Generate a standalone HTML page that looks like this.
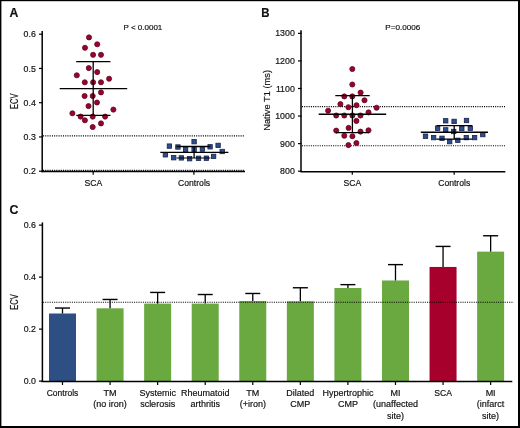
<!DOCTYPE html>
<html><head><meta charset="utf-8"><style>
html,body{margin:0;padding:0;background:#fff;}
body{width:520px;height:428px;overflow:hidden;position:relative;}
svg{position:absolute;left:0;top:0;}
text{font-family:"Liberation Sans", sans-serif;fill:#111;stroke:#111;stroke-width:0.18px;}
</style></head><body>
<svg width="520" height="428" viewBox="0 0 520 428">
<defs><filter id="g" x="0" y="0" width="1" height="1"><feOffset dx="0" dy="0"/></filter></defs>
<rect x="0" y="0" width="520" height="428" fill="#fff"/>
<line x1="39" y1="34.19999999999999" x2="42.5" y2="34.19999999999999" stroke="#000" stroke-width="1.2" />
<line x1="39" y1="68.44999999999999" x2="42.5" y2="68.44999999999999" stroke="#000" stroke-width="1.2" />
<line x1="39" y1="102.69999999999999" x2="42.5" y2="102.69999999999999" stroke="#000" stroke-width="1.2" />
<line x1="39" y1="136.95" x2="42.5" y2="136.95" stroke="#000" stroke-width="1.2" />
<line x1="39" y1="171.2" x2="42.5" y2="171.2" stroke="#000" stroke-width="1.2" />
<line x1="43" y1="135.8" x2="245" y2="135.8" stroke="#000" stroke-width="1.15" stroke-dasharray="1.05 1.17"/>
<line x1="43" y1="170.3" x2="245" y2="170.3" stroke="#000" stroke-width="1.15" stroke-dasharray="1.05 1.17"/>
<line x1="42.2" y1="31" x2="42.2" y2="172.2" stroke="#000" stroke-width="1.5" />
<line x1="41.5" y1="171.5" x2="245" y2="171.5" stroke="#000" stroke-width="1.5" />
<line x1="93.2" y1="171" x2="93.2" y2="174.8" stroke="#000" stroke-width="1.2" />
<line x1="193.9" y1="171" x2="193.9" y2="174.8" stroke="#000" stroke-width="1.2" />
<circle cx="89.0" cy="37.4" r="2.55" fill="#98042f" stroke="#5e0820" stroke-width="0.8"/>
<circle cx="97.2" cy="44.3" r="2.55" fill="#98042f" stroke="#5e0820" stroke-width="0.8"/>
<circle cx="85.0" cy="47.8" r="2.55" fill="#98042f" stroke="#5e0820" stroke-width="0.8"/>
<circle cx="93.1" cy="54.8" r="2.55" fill="#98042f" stroke="#5e0820" stroke-width="0.8"/>
<circle cx="101.0" cy="54.8" r="2.55" fill="#98042f" stroke="#5e0820" stroke-width="0.8"/>
<circle cx="88.8" cy="68.1" r="2.55" fill="#98042f" stroke="#5e0820" stroke-width="0.8"/>
<circle cx="97.2" cy="72.1" r="2.55" fill="#98042f" stroke="#5e0820" stroke-width="0.8"/>
<circle cx="76.8" cy="75.3" r="2.55" fill="#98042f" stroke="#5e0820" stroke-width="0.8"/>
<circle cx="109.1" cy="78.7" r="2.55" fill="#98042f" stroke="#5e0820" stroke-width="0.8"/>
<circle cx="84.8" cy="82.3" r="2.55" fill="#98042f" stroke="#5e0820" stroke-width="0.8"/>
<circle cx="93.1" cy="82.3" r="2.55" fill="#98042f" stroke="#5e0820" stroke-width="0.8"/>
<circle cx="101.0" cy="82.3" r="2.55" fill="#98042f" stroke="#5e0820" stroke-width="0.8"/>
<circle cx="101.0" cy="92.4" r="2.55" fill="#98042f" stroke="#5e0820" stroke-width="0.8"/>
<circle cx="84.6" cy="96.0" r="2.55" fill="#98042f" stroke="#5e0820" stroke-width="0.8"/>
<circle cx="92.7" cy="96.0" r="2.55" fill="#98042f" stroke="#5e0820" stroke-width="0.8"/>
<circle cx="97.0" cy="102.5" r="2.55" fill="#98042f" stroke="#5e0820" stroke-width="0.8"/>
<circle cx="88.5" cy="106.1" r="2.55" fill="#98042f" stroke="#5e0820" stroke-width="0.8"/>
<circle cx="113.4" cy="109.6" r="2.55" fill="#98042f" stroke="#5e0820" stroke-width="0.8"/>
<circle cx="72.4" cy="113.3" r="2.55" fill="#98042f" stroke="#5e0820" stroke-width="0.8"/>
<circle cx="80.6" cy="116.6" r="2.55" fill="#98042f" stroke="#5e0820" stroke-width="0.8"/>
<circle cx="92.7" cy="116.6" r="2.55" fill="#98042f" stroke="#5e0820" stroke-width="0.8"/>
<circle cx="105.1" cy="116.6" r="2.55" fill="#98042f" stroke="#5e0820" stroke-width="0.8"/>
<circle cx="84.9" cy="120.3" r="2.55" fill="#98042f" stroke="#5e0820" stroke-width="0.8"/>
<circle cx="101.0" cy="123.4" r="2.55" fill="#98042f" stroke="#5e0820" stroke-width="0.8"/>
<circle cx="92.7" cy="127.0" r="2.55" fill="#98042f" stroke="#5e0820" stroke-width="0.8"/>
<line x1="59.7" y1="88.6" x2="127.2" y2="88.6" stroke="#000" stroke-width="1.4" />
<line x1="76.2" y1="61.6" x2="110.4" y2="61.6" stroke="#000" stroke-width="1.3" />
<line x1="76.3" y1="115.4" x2="110.5" y2="115.4" stroke="#000" stroke-width="1.3" />
<line x1="93.2" y1="61.6" x2="93.2" y2="115.4" stroke="#000" stroke-width="1.3" />
<rect x="191.90" y="139.50" width="4.4" height="4.4" fill="#2f4d8a" stroke="#18244e" stroke-width="0.8"/>
<rect x="167.20" y="143.90" width="4.4" height="4.4" fill="#2f4d8a" stroke="#18244e" stroke-width="0.8"/>
<rect x="175.70" y="144.80" width="4.4" height="4.4" fill="#2f4d8a" stroke="#18244e" stroke-width="0.8"/>
<rect x="207.90" y="144.60" width="4.4" height="4.4" fill="#2f4d8a" stroke="#18244e" stroke-width="0.8"/>
<rect x="215.90" y="143.20" width="4.4" height="4.4" fill="#2f4d8a" stroke="#18244e" stroke-width="0.8"/>
<rect x="183.40" y="147.30" width="4.4" height="4.4" fill="#2f4d8a" stroke="#18244e" stroke-width="0.8"/>
<rect x="191.90" y="147.30" width="4.4" height="4.4" fill="#2f4d8a" stroke="#18244e" stroke-width="0.8"/>
<rect x="200.20" y="146.90" width="4.4" height="4.4" fill="#2f4d8a" stroke="#18244e" stroke-width="0.8"/>
<rect x="220.00" y="149.30" width="4.4" height="4.4" fill="#2f4d8a" stroke="#18244e" stroke-width="0.8"/>
<rect x="163.20" y="152.60" width="4.4" height="4.4" fill="#2f4d8a" stroke="#18244e" stroke-width="0.8"/>
<rect x="171.50" y="155.50" width="4.4" height="4.4" fill="#2f4d8a" stroke="#18244e" stroke-width="0.8"/>
<rect x="179.20" y="155.70" width="4.4" height="4.4" fill="#2f4d8a" stroke="#18244e" stroke-width="0.8"/>
<rect x="187.40" y="156.50" width="4.4" height="4.4" fill="#2f4d8a" stroke="#18244e" stroke-width="0.8"/>
<rect x="196.30" y="156.10" width="4.4" height="4.4" fill="#2f4d8a" stroke="#18244e" stroke-width="0.8"/>
<rect x="204.20" y="156.00" width="4.4" height="4.4" fill="#2f4d8a" stroke="#18244e" stroke-width="0.8"/>
<rect x="211.40" y="154.20" width="4.4" height="4.4" fill="#2f4d8a" stroke="#18244e" stroke-width="0.8"/>
<line x1="160.3" y1="152.4" x2="228.4" y2="152.4" stroke="#000" stroke-width="1.4" />
<line x1="176.5" y1="146.5" x2="210.5" y2="146.5" stroke="#000" stroke-width="1.3" />
<line x1="176.5" y1="158.0" x2="210.5" y2="158.0" stroke="#000" stroke-width="1.1" />
<line x1="194.1" y1="146.5" x2="194.1" y2="158.0" stroke="#000" stroke-width="1.3" />
<line x1="298" y1="33.349999999999994" x2="301.5" y2="33.349999999999994" stroke="#000" stroke-width="1.2" />
<line x1="298" y1="60.91999999999999" x2="301.5" y2="60.91999999999999" stroke="#000" stroke-width="1.2" />
<line x1="298" y1="88.49" x2="301.5" y2="88.49" stroke="#000" stroke-width="1.2" />
<line x1="298" y1="116.05999999999999" x2="301.5" y2="116.05999999999999" stroke="#000" stroke-width="1.2" />
<line x1="298" y1="143.63" x2="301.5" y2="143.63" stroke="#000" stroke-width="1.2" />
<line x1="298" y1="171.2" x2="301.5" y2="171.2" stroke="#000" stroke-width="1.2" />
<line x1="302" y1="106.6" x2="505" y2="106.6" stroke="#000" stroke-width="1.15" stroke-dasharray="1.05 1.17"/>
<line x1="302" y1="145.7" x2="505" y2="145.7" stroke="#000" stroke-width="1.15" stroke-dasharray="1.05 1.17"/>
<line x1="301" y1="30.2" x2="301" y2="172" stroke="#000" stroke-width="1.5" />
<line x1="300.5" y1="171.7" x2="505.3" y2="171.7" stroke="#000" stroke-width="1.5" />
<line x1="352.3" y1="171" x2="352.3" y2="174.8" stroke="#000" stroke-width="1.2" />
<line x1="454.2" y1="171" x2="454.2" y2="174.8" stroke="#000" stroke-width="1.2" />
<circle cx="352.3" cy="69.0" r="2.55" fill="#98042f" stroke="#5e0820" stroke-width="0.8"/>
<circle cx="352.3" cy="84.5" r="2.55" fill="#98042f" stroke="#5e0820" stroke-width="0.8"/>
<circle cx="360.6" cy="92.6" r="2.55" fill="#98042f" stroke="#5e0820" stroke-width="0.8"/>
<circle cx="344.3" cy="96.4" r="2.55" fill="#98042f" stroke="#5e0820" stroke-width="0.8"/>
<circle cx="352.3" cy="96.4" r="2.55" fill="#98042f" stroke="#5e0820" stroke-width="0.8"/>
<circle cx="364.5" cy="100.3" r="2.55" fill="#98042f" stroke="#5e0820" stroke-width="0.8"/>
<circle cx="340.4" cy="104.1" r="2.55" fill="#98042f" stroke="#5e0820" stroke-width="0.8"/>
<circle cx="356.5" cy="105.2" r="2.55" fill="#98042f" stroke="#5e0820" stroke-width="0.8"/>
<circle cx="348.4" cy="107.2" r="2.55" fill="#98042f" stroke="#5e0820" stroke-width="0.8"/>
<circle cx="328.1" cy="110.7" r="2.55" fill="#98042f" stroke="#5e0820" stroke-width="0.8"/>
<circle cx="376.6" cy="107.7" r="2.55" fill="#98042f" stroke="#5e0820" stroke-width="0.8"/>
<circle cx="368.5" cy="112.4" r="2.55" fill="#98042f" stroke="#5e0820" stroke-width="0.8"/>
<circle cx="336.2" cy="115.5" r="2.55" fill="#98042f" stroke="#5e0820" stroke-width="0.8"/>
<circle cx="344.3" cy="115.5" r="2.55" fill="#98042f" stroke="#5e0820" stroke-width="0.8"/>
<circle cx="352.4" cy="115.5" r="2.55" fill="#98042f" stroke="#5e0820" stroke-width="0.8"/>
<circle cx="360.5" cy="115.5" r="2.55" fill="#98042f" stroke="#5e0820" stroke-width="0.8"/>
<circle cx="356.4" cy="120.9" r="2.55" fill="#98042f" stroke="#5e0820" stroke-width="0.8"/>
<circle cx="348.6" cy="127.9" r="2.55" fill="#98042f" stroke="#5e0820" stroke-width="0.8"/>
<circle cx="336.2" cy="130.6" r="2.55" fill="#98042f" stroke="#5e0820" stroke-width="0.8"/>
<circle cx="360.5" cy="131.6" r="2.55" fill="#98042f" stroke="#5e0820" stroke-width="0.8"/>
<circle cx="368.5" cy="130.3" r="2.55" fill="#98042f" stroke="#5e0820" stroke-width="0.8"/>
<circle cx="344.3" cy="135.7" r="2.55" fill="#98042f" stroke="#5e0820" stroke-width="0.8"/>
<circle cx="352.4" cy="136.2" r="2.55" fill="#98042f" stroke="#5e0820" stroke-width="0.8"/>
<circle cx="356.4" cy="143.0" r="2.55" fill="#98042f" stroke="#5e0820" stroke-width="0.8"/>
<circle cx="348.4" cy="145.1" r="2.55" fill="#98042f" stroke="#5e0820" stroke-width="0.8"/>
<line x1="318.7" y1="114.2" x2="386.2" y2="114.2" stroke="#000" stroke-width="1.4" />
<line x1="335.3" y1="95.7" x2="369.7" y2="95.7" stroke="#000" stroke-width="1.3" />
<line x1="336.0" y1="132.6" x2="369.4" y2="132.6" stroke="#000" stroke-width="1.3" />
<line x1="352.4" y1="95.7" x2="352.4" y2="132.6" stroke="#000" stroke-width="1.3" />
<rect x="443.50" y="118.60" width="4.4" height="4.4" fill="#2f4d8a" stroke="#18244e" stroke-width="0.8"/>
<rect x="451.90" y="119.20" width="4.4" height="4.4" fill="#2f4d8a" stroke="#18244e" stroke-width="0.8"/>
<rect x="464.30" y="118.30" width="4.4" height="4.4" fill="#2f4d8a" stroke="#18244e" stroke-width="0.8"/>
<rect x="435.40" y="126.00" width="4.4" height="4.4" fill="#2f4d8a" stroke="#18244e" stroke-width="0.8"/>
<rect x="443.50" y="127.70" width="4.4" height="4.4" fill="#2f4d8a" stroke="#18244e" stroke-width="0.8"/>
<rect x="459.60" y="126.40" width="4.4" height="4.4" fill="#2f4d8a" stroke="#18244e" stroke-width="0.8"/>
<rect x="468.10" y="126.00" width="4.4" height="4.4" fill="#2f4d8a" stroke="#18244e" stroke-width="0.8"/>
<rect x="451.50" y="129.30" width="4.4" height="4.4" fill="#2f4d8a" stroke="#18244e" stroke-width="0.8"/>
<rect x="423.30" y="134.00" width="4.4" height="4.4" fill="#2f4d8a" stroke="#18244e" stroke-width="0.8"/>
<rect x="431.40" y="135.40" width="4.4" height="4.4" fill="#2f4d8a" stroke="#18244e" stroke-width="0.8"/>
<rect x="439.80" y="136.10" width="4.4" height="4.4" fill="#2f4d8a" stroke="#18244e" stroke-width="0.8"/>
<rect x="447.50" y="139.40" width="4.4" height="4.4" fill="#2f4d8a" stroke="#18244e" stroke-width="0.8"/>
<rect x="455.60" y="138.10" width="4.4" height="4.4" fill="#2f4d8a" stroke="#18244e" stroke-width="0.8"/>
<rect x="464.10" y="135.40" width="4.4" height="4.4" fill="#2f4d8a" stroke="#18244e" stroke-width="0.8"/>
<rect x="472.40" y="135.40" width="4.4" height="4.4" fill="#2f4d8a" stroke="#18244e" stroke-width="0.8"/>
<rect x="480.60" y="132.40" width="4.4" height="4.4" fill="#2f4d8a" stroke="#18244e" stroke-width="0.8"/>
<line x1="420.8" y1="132.2" x2="488" y2="132.2" stroke="#000" stroke-width="1.4" />
<line x1="436.5" y1="125.6" x2="472.3" y2="125.6" stroke="#000" stroke-width="1.3" />
<line x1="436.2" y1="139.2" x2="472.3" y2="139.2" stroke="#000" stroke-width="1.3" />
<line x1="454.2" y1="125.6" x2="454.2" y2="139.2" stroke="#000" stroke-width="1.3" />
<line x1="39" y1="225.10000000000002" x2="42.5" y2="225.10000000000002" stroke="#000" stroke-width="1.2" />
<line x1="39" y1="277.1" x2="42.5" y2="277.1" stroke="#000" stroke-width="1.2" />
<line x1="39" y1="329.1" x2="42.5" y2="329.1" stroke="#000" stroke-width="1.2" />
<line x1="39" y1="381.1" x2="42.5" y2="381.1" stroke="#000" stroke-width="1.2" />
<rect x="49.00" y="313.50" width="27" height="67.60" fill="#2e4f83"/>
<line x1="62.5" y1="313.5" x2="62.5" y2="308.04" stroke="#000" stroke-width="1.3" />
<line x1="55.0" y1="308.04" x2="70.0" y2="308.04" stroke="#000" stroke-width="1.4" />
<line x1="62.5" y1="381" x2="62.5" y2="385" stroke="#000" stroke-width="1.2" />
<rect x="96.57" y="308.30" width="27" height="72.80" fill="#6aa840"/>
<line x1="110.07" y1="308.3" x2="110.07" y2="299.46000000000004" stroke="#000" stroke-width="1.3" />
<line x1="102.57" y1="299.46000000000004" x2="117.57" y2="299.46000000000004" stroke="#000" stroke-width="1.4" />
<line x1="110.07" y1="381" x2="110.07" y2="385" stroke="#000" stroke-width="1.2" />
<rect x="144.14" y="303.62" width="27" height="77.48" fill="#6aa840"/>
<line x1="157.64" y1="303.62" x2="157.64" y2="292.44" stroke="#000" stroke-width="1.3" />
<line x1="150.14" y1="292.44" x2="165.14" y2="292.44" stroke="#000" stroke-width="1.4" />
<line x1="157.64" y1="381" x2="157.64" y2="385" stroke="#000" stroke-width="1.2" />
<rect x="191.71" y="303.62" width="27" height="77.48" fill="#6aa840"/>
<line x1="205.21" y1="303.62" x2="205.21" y2="294.52000000000004" stroke="#000" stroke-width="1.3" />
<line x1="197.71" y1="294.52000000000004" x2="212.71" y2="294.52000000000004" stroke="#000" stroke-width="1.4" />
<line x1="205.21" y1="381" x2="205.21" y2="385" stroke="#000" stroke-width="1.2" />
<rect x="239.28" y="301.02" width="27" height="80.08" fill="#6aa840"/>
<line x1="252.78" y1="301.02000000000004" x2="252.78" y2="293.48" stroke="#000" stroke-width="1.3" />
<line x1="245.28" y1="293.48" x2="260.28" y2="293.48" stroke="#000" stroke-width="1.4" />
<line x1="252.78" y1="381" x2="252.78" y2="385" stroke="#000" stroke-width="1.2" />
<rect x="286.85" y="301.28" width="27" height="79.82" fill="#6aa840"/>
<line x1="300.35" y1="301.28000000000003" x2="300.35" y2="287.76" stroke="#000" stroke-width="1.3" />
<line x1="292.85" y1="287.76" x2="307.85" y2="287.76" stroke="#000" stroke-width="1.4" />
<line x1="300.35" y1="381" x2="300.35" y2="385" stroke="#000" stroke-width="1.2" />
<rect x="334.42" y="288.02" width="27" height="93.08" fill="#6aa840"/>
<line x1="347.92" y1="288.02000000000004" x2="347.92" y2="284.64000000000004" stroke="#000" stroke-width="1.3" />
<line x1="340.42" y1="284.64000000000004" x2="355.42" y2="284.64000000000004" stroke="#000" stroke-width="1.4" />
<line x1="347.92" y1="381" x2="347.92" y2="385" stroke="#000" stroke-width="1.2" />
<rect x="381.99" y="280.48" width="27" height="100.62" fill="#6aa840"/>
<line x1="395.49" y1="280.48" x2="395.49" y2="264.62" stroke="#000" stroke-width="1.3" />
<line x1="387.99" y1="264.62" x2="402.99" y2="264.62" stroke="#000" stroke-width="1.4" />
<line x1="395.49" y1="381" x2="395.49" y2="385" stroke="#000" stroke-width="1.2" />
<rect x="429.56" y="266.96" width="27" height="114.14" fill="#a8002c"/>
<line x1="443.06" y1="266.96000000000004" x2="443.06" y2="246.42000000000002" stroke="#000" stroke-width="1.3" />
<line x1="435.56" y1="246.42000000000002" x2="450.56" y2="246.42000000000002" stroke="#000" stroke-width="1.4" />
<line x1="443.06" y1="381" x2="443.06" y2="385" stroke="#000" stroke-width="1.2" />
<rect x="477.13" y="251.62" width="27" height="129.48" fill="#6aa840"/>
<line x1="490.63" y1="251.62000000000003" x2="490.63" y2="235.76000000000002" stroke="#000" stroke-width="1.3" />
<line x1="483.13" y1="235.76000000000002" x2="498.13" y2="235.76000000000002" stroke="#000" stroke-width="1.4" />
<line x1="490.63" y1="381" x2="490.63" y2="385" stroke="#000" stroke-width="1.2" />
<line x1="43" y1="302.2" x2="513.7" y2="302.2" stroke="#000" stroke-width="1.15" stroke-dasharray="1.05 1.17"/>
<line x1="42.4" y1="222.4" x2="42.4" y2="382" stroke="#000" stroke-width="1.5" />
<line x1="41.3" y1="381.5" x2="512.3" y2="381.5" stroke="#000" stroke-width="1.5" />
<g filter="url(#g)">
<text x="9.4" y="16.5" font-size="12.2" text-anchor="start" font-weight="bold" >A</text>
<text x="142.9" y="29.9" font-size="8.0" text-anchor="middle" font-weight="normal" >P &lt; 0.0001</text>
<text x="35.8" y="37.29999999999999" font-size="8.8" text-anchor="end" font-weight="normal" >0.6</text>
<text x="35.8" y="71.54999999999998" font-size="8.8" text-anchor="end" font-weight="normal" >0.5</text>
<text x="35.8" y="105.79999999999998" font-size="8.8" text-anchor="end" font-weight="normal" >0.4</text>
<text x="35.8" y="140.04999999999998" font-size="8.8" text-anchor="end" font-weight="normal" >0.3</text>
<text x="35.8" y="174.29999999999998" font-size="8.8" text-anchor="end" font-weight="normal" >0.2</text>
<text x="0" y="0" font-size="10" text-anchor="middle" font-weight="normal" transform="translate(18.2,101.2) rotate(-90) scale(0.75,1)">ECV</text>
<text x="93.3" y="185.6" font-size="8.6" text-anchor="middle" font-weight="normal" >SCA</text>
<text x="194.1" y="185.5" font-size="8.6" text-anchor="middle" font-weight="normal" >Controls</text>
<text x="261.3" y="16.6" font-size="12.5" text-anchor="start" font-weight="bold" textLength="8.3" lengthAdjust="spacingAndGlyphs">B</text>
<text x="402.7" y="29.7" font-size="8.1" text-anchor="middle" font-weight="normal" >P=0.0006</text>
<text x="294.8" y="36.449999999999996" font-size="8.8" text-anchor="end" font-weight="normal" >1300</text>
<text x="294.8" y="64.01999999999998" font-size="8.8" text-anchor="end" font-weight="normal" >1200</text>
<text x="294.8" y="91.58999999999999" font-size="8.8" text-anchor="end" font-weight="normal" >1100</text>
<text x="294.8" y="119.15999999999998" font-size="8.8" text-anchor="end" font-weight="normal" >1000</text>
<text x="294.8" y="146.73" font-size="8.8" text-anchor="end" font-weight="normal" >900</text>
<text x="294.8" y="174.29999999999998" font-size="8.8" text-anchor="end" font-weight="normal" >800</text>
<text x="0" y="0" font-size="9.3" text-anchor="middle" font-weight="normal" transform="translate(270.2,100.4) rotate(-90)">Native T1 (ms)</text>
<text x="352.4" y="186.0" font-size="8.6" text-anchor="middle" font-weight="normal" >SCA</text>
<text x="454.2" y="186.0" font-size="8.6" text-anchor="middle" font-weight="normal" >Controls</text>
<text x="9.4" y="214.2" font-size="12.3" text-anchor="start" font-weight="bold" >C</text>
<text x="35.9" y="228.20000000000002" font-size="8.8" text-anchor="end" font-weight="normal" >0.6</text>
<text x="35.9" y="280.20000000000005" font-size="8.8" text-anchor="end" font-weight="normal" >0.4</text>
<text x="35.9" y="332.20000000000005" font-size="8.8" text-anchor="end" font-weight="normal" >0.2</text>
<text x="35.9" y="384.20000000000005" font-size="8.8" text-anchor="end" font-weight="normal" >0.0</text>
<text x="0" y="0" font-size="10" text-anchor="middle" font-weight="normal" transform="translate(18.0,301.9) rotate(-90) scale(0.76,1)">ECV</text>
<text x="62.50" y="395.8" font-size="8.5" text-anchor="middle" font-weight="normal" >Controls</text>
<text x="110.07" y="395.8" font-size="9" text-anchor="middle" font-weight="normal" >TM</text>
<text x="110.07" y="407.25" font-size="9" text-anchor="middle" font-weight="normal" >(no iron)</text>
<text x="157.64" y="395.8" font-size="9" text-anchor="middle" font-weight="normal" >Systemic</text>
<text x="157.64" y="407.25" font-size="9" text-anchor="middle" font-weight="normal" >sclerosis</text>
<text x="205.21" y="395.8" font-size="9" text-anchor="middle" font-weight="normal" >Rheumatoid</text>
<text x="205.21" y="407.25" font-size="9" text-anchor="middle" font-weight="normal" >arthritis</text>
<text x="252.78" y="395.8" font-size="9" text-anchor="middle" font-weight="normal" >TM</text>
<text x="252.78" y="407.25" font-size="9" text-anchor="middle" font-weight="normal" >(+iron)</text>
<text x="300.35" y="395.8" font-size="9" text-anchor="middle" font-weight="normal" >Dilated</text>
<text x="300.35" y="407.25" font-size="9" text-anchor="middle" font-weight="normal" >CMP</text>
<text x="347.92" y="395.8" font-size="9" text-anchor="middle" font-weight="normal" >Hypertrophic</text>
<text x="347.92" y="407.25" font-size="9" text-anchor="middle" font-weight="normal" >CMP</text>
<text x="395.49" y="395.8" font-size="9" text-anchor="middle" font-weight="normal" >MI</text>
<text x="395.49" y="407.25" font-size="9" text-anchor="middle" font-weight="normal" >(unaffected</text>
<text x="395.49" y="418.7" font-size="9" text-anchor="middle" font-weight="normal" >site)</text>
<text x="443.06" y="395.8" font-size="8.6" text-anchor="middle" font-weight="normal" >SCA</text>
<text x="490.63" y="395.8" font-size="9" text-anchor="middle" font-weight="normal" >MI</text>
<text x="490.63" y="407.25" font-size="9" text-anchor="middle" font-weight="normal" >(infarct</text>
<text x="490.63" y="418.7" font-size="9" text-anchor="middle" font-weight="normal" >site)</text>
</g>
<rect x="0" y="0" width="1.4" height="428" fill="#000"/>
<rect x="0" y="0" width="520" height="1.2" fill="#000"/>
<rect x="518" y="0" width="2" height="428" fill="#000"/>
<rect x="0" y="426" width="520" height="2" fill="#000"/>
</svg>
</body></html>
